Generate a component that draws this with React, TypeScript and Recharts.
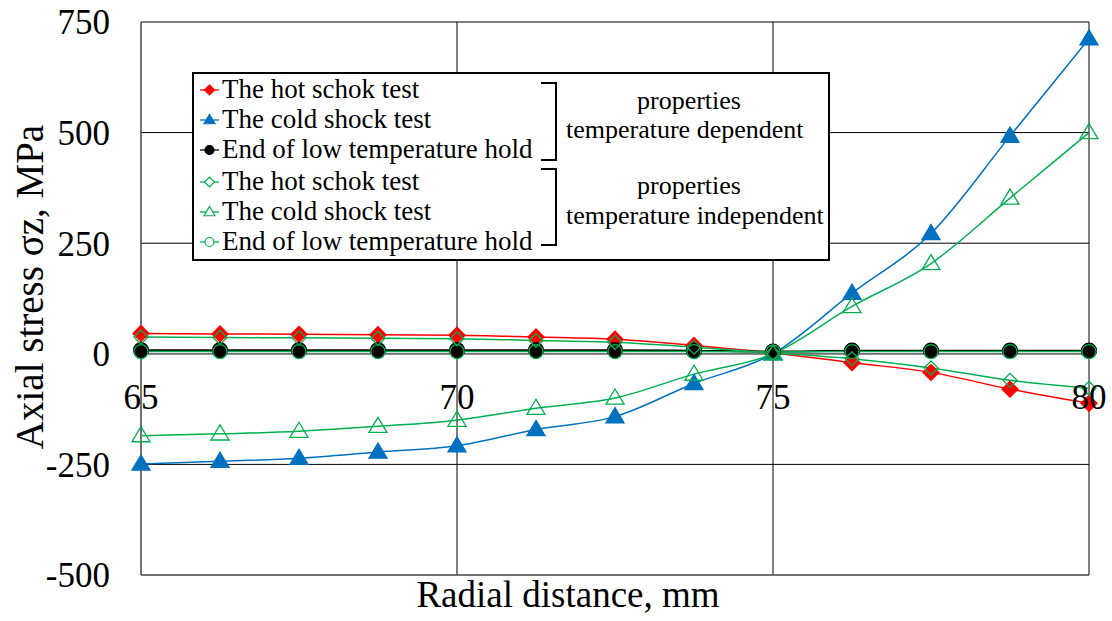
import { LineChart, Line, XAxis, YAxis, CartesianGrid, ReferenceLine } from 'recharts'

// radial positions, mm
const radial = [65, 66.25, 67.5, 68.75, 70, 71.25, 72.5, 73.75, 75, 76.25, 77.5, 78.75, 80]

// temperature dependent properties
const hotDep = [46, 45, 44, 43, 42, 38, 33, 19, 2, -20, -42, -80, -112]
const coldDep = [-249, -243, -236, -222, -208, -171, -142, -67, 0, 137, 272, 492, 712]
const holdDep = [8, 8, 8, 8, 8, 8, 8, 7, 5, 7, 7, 7, 7]

// temperature independent properties
const hotIndep = [38, 37, 36, 35, 34, 30, 26, 15, 2, -11, -32, -60, -78]
const coldIndep = [-185, -181, -175, -164, -150, -123, -100, -46, 0, 107, 204, 352, 500]
const holdIndep = [5, 5, 5, 5, 5, 5, 5, 5, 4, 5, 5, 5, 5]

const xTicks = [65, 70, 75, 80]
const yTicks = [-500, -250, 0, 250, 500, 750]

const data = radial.map((r, i) => ({
  r,
  hotDep: hotDep[i],
  coldDep: coldDep[i],
  holdDep: holdDep[i],
  hotIndep: hotIndep[i],
  coldIndep: coldIndep[i],
  holdIndep: holdIndep[i],
}))

const W = 1112
const H = 621
const PLOT_TOP = 22
const PLOT_BOTTOM = 575
const Y_MIN = -500
const Y_MAX = 750
const ZERO_Y = PLOT_TOP + ((PLOT_BOTTOM - PLOT_TOP) * Y_MAX) / (Y_MAX - Y_MIN)

const FONT = '"Liberation Serif", "Times New Roman", serif'
const RED = '#ff0000'
const BLUE = '#0070c0'
const GREEN = '#00b050'

const diamond = (cx: number, cy: number, s: number) =>
  `${cx},${cy - s} ${cx + s},${cy} ${cx},${cy + s} ${cx - s},${cy}`
const triangle = (cx: number, cy: number, s: number) =>
  `${cx},${cy - s} ${cx + s},${cy + s * 0.68} ${cx - s},${cy + s * 0.68}`

const makeDot = (kind: string, color: string, filled: boolean, size: number) => (p: any) => {
  const { cx, cy, index } = p
  const key = `${kind}-${color}-${index}`
  if (cx == null || cy == null) return <g key={key} />
  const fill = filled ? color : 'none'
  if (kind === 'diamond')
    return <polygon key={key} points={diamond(cx, cy, size)} fill={fill} stroke={color} strokeWidth={1.3} />
  if (kind === 'triangle')
    return <polygon key={key} points={triangle(cx, cy, size)} fill={fill} stroke={color} strokeWidth={1.3} />
  return <circle key={key} cx={cx} cy={cy} r={size} fill={fill} stroke={color} strokeWidth={1.3} />
}

const XTick = ({ x, payload }: any) => (
  <text x={x} y={ZERO_Y + 55} textAnchor="middle" fontFamily={FONT} fontSize={35} fill="#000">
    {payload.value}
  </text>
)

const legendRows = [
  { label: 'The hot schok test', kind: 'diamond', color: RED, filled: true },
  { label: 'The cold shock test', kind: 'triangle', color: BLUE, filled: true },
  { label: 'End of low temperature hold', kind: 'circle', color: '#000', filled: true },
  { label: 'The hot schok test', kind: 'diamond', color: GREEN, filled: false },
  { label: 'The cold shock test', kind: 'triangle', color: GREEN, filled: false },
  { label: 'End of low temperature hold', kind: 'circle', color: GREEN, filled: false },
]
const rowY = [18, 48, 78, 110, 140, 170]

function LegendBox() {
  return (
    <svg
      width={638}
      height={189}
      style={{ position: 'absolute', left: 192, top: 72, background: '#fff' }}
    >
      <rect x={1} y={1} width={636} height={187} fill="#fff" stroke="#000" strokeWidth={2} />
      {legendRows.map((row, i) => {
        const cy = rowY[i]
        const fill = row.filled ? row.color : '#fff'
        return (
          <g key={i}>
            <line x1={8} x2={27} y1={cy} y2={cy} stroke={row.color} strokeWidth={1.3} />
            {row.kind === 'diamond' && (
              <polygon points={diamond(17.5, cy, 5)} fill={fill} stroke={row.color} strokeWidth={1.2} />
            )}
            {row.kind === 'triangle' && (
              <polygon points={triangle(17.5, cy, 5.5)} fill={fill} stroke={row.color} strokeWidth={1.2} />
            )}
            {row.kind === 'circle' && (
              <circle cx={17.5} cy={cy} r={4.5} fill={fill} stroke={row.color} strokeWidth={1.2} />
            )}
            <text x={30} y={cy + 8} fontFamily={FONT} fontSize={27} fill="#000">
              {row.label}
            </text>
          </g>
        )
      })}
      <polyline points="349,11 364,11 364,88 349,88" fill="none" stroke="#000" strokeWidth={2} />
      <polyline points="349,97 364,97 364,173 349,173" fill="none" stroke="#000" strokeWidth={2} />
      <text x={497} y={37} textAnchor="middle" fontFamily={FONT} fontSize={26} fill="#000">properties</text>
      <text x={374} y={66} fontFamily={FONT} fontSize={26} fill="#000">temperature dependent</text>
      <text x={497} y={122} textAnchor="middle" fontFamily={FONT} fontSize={26} fill="#000">properties</text>
      <text x={374} y={152} fontFamily={FONT} fontSize={26} fill="#000">temperature independent</text>
    </svg>
  )
}

export default function App() {
  return (
    <div style={{ position: 'absolute', left: 0, top: 0, width: W, height: H, background: '#fff' }}>
      <LineChart width={W} height={H} data={data} margin={{ top: PLOT_TOP, right: 23, bottom: 0, left: 0 }}>
        <CartesianGrid stroke="#000" strokeWidth={1} />
        <XAxis
          dataKey="r"
          type="number"
          domain={[65, 80]}
          ticks={xTicks}
          height={46}
          tickLine={false}
          axisLine={{ stroke: '#6e6e6e', strokeWidth: 1.5 }}
          tick={<XTick />}
          label={{
            content: () => (
              <text x={568} y={607} textAnchor="middle" fontFamily={FONT} fontSize={37} fill="#000">
                Radial distance, mm
              </text>
            ),
          }}
        />
        <YAxis
          type="number"
          domain={[Y_MIN, Y_MAX]}
          ticks={yTicks}
          width={141}
          tickLine={false}
          tickSize={0}
          tickMargin={31}
          axisLine={{ stroke: '#6e6e6e', strokeWidth: 1.5 }}
          tick={{ fill: '#000', fontSize: 35, fontFamily: FONT }}
          label={{
            content: () => (
              <text
                transform="translate(43,287) rotate(-90)"
                textAnchor="middle"
                fontFamily={FONT}
                fontSize={39}
                fill="#000"
              >
                Axial stress σz, MPa
              </text>
            ),
          }}
        />
        <ReferenceLine y={0} stroke="#6e6e6e" strokeWidth={1.5} />
        <Line dataKey="hotDep" type="monotone" stroke={RED} strokeWidth={1.5} dot={makeDot('diamond', RED, true, 8)} activeDot={false} isAnimationActive={false} />
        <Line dataKey="coldDep" type="monotone" stroke={BLUE} strokeWidth={1.5} dot={makeDot('triangle', BLUE, true, 9)} activeDot={false} isAnimationActive={false} />
        <Line dataKey="holdDep" type="monotone" stroke="#000" strokeWidth={2} dot={makeDot('circle', '#000', true, 7.5)} activeDot={false} isAnimationActive={false} />
        <Line dataKey="hotIndep" type="monotone" stroke={GREEN} strokeWidth={1.5} dot={makeDot('diamond', GREEN, false, 7)} activeDot={false} isAnimationActive={false} />
        <Line dataKey="coldIndep" type="monotone" stroke={GREEN} strokeWidth={1.5} dot={makeDot('triangle', GREEN, false, 9)} activeDot={false} isAnimationActive={false} />
        <Line dataKey="holdIndep" type="monotone" stroke={GREEN} strokeWidth={1.5} dot={makeDot('circle', GREEN, false, 7)} activeDot={false} isAnimationActive={false} />
      </LineChart>
      <LegendBox />
    </div>
  )
}
